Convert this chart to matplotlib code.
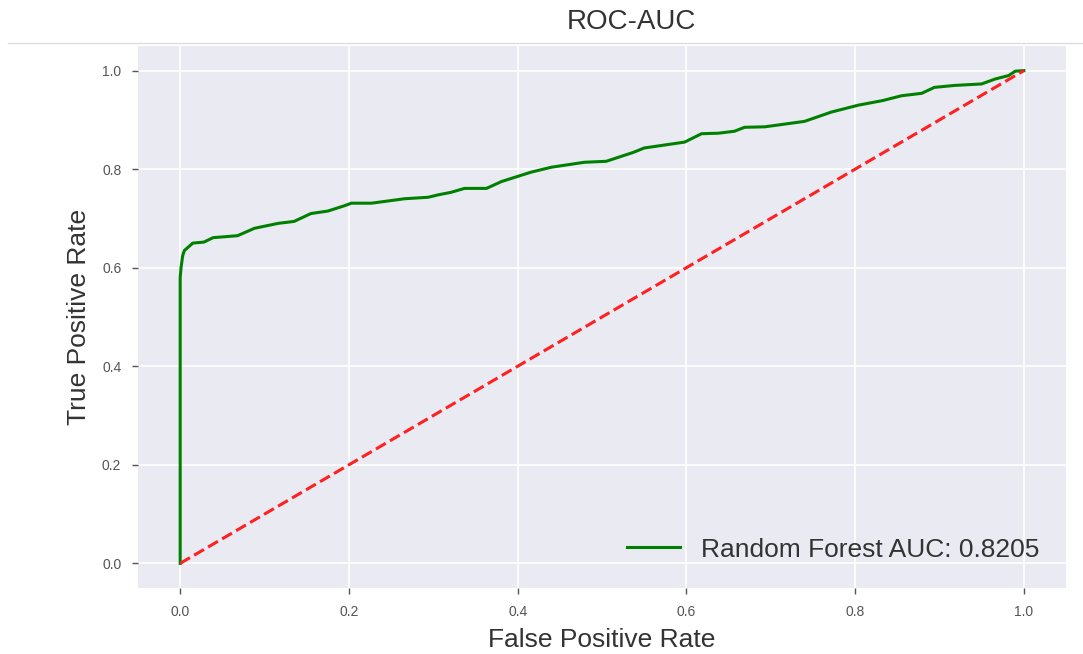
import matplotlib
matplotlib.use("Agg")
import matplotlib.pyplot as plt
from matplotlib.lines import Line2D

# ROC egrisi (resimden okunan noktalar)
fpr = [0, 0, 0.001, 0.003, 0.005, 0.015, 0.028, 0.039, 0.068, 0.088, 0.116, 0.135,
       0.155, 0.175, 0.195, 0.203, 0.227, 0.266, 0.294, 0.306, 0.321, 0.337, 0.363,
       0.381, 0.416, 0.44, 0.479, 0.505, 0.537, 0.55, 0.578, 0.598, 0.618, 0.638,
       0.657, 0.669, 0.693, 0.74, 0.772, 0.804, 0.832, 0.855, 0.879, 0.894, 0.918,
       0.95, 0.966, 0.982, 0.99, 1.0]
tpr = [0, 0.58, 0.6, 0.625, 0.635, 0.65, 0.652, 0.661, 0.665, 0.68, 0.69, 0.694,
       0.71, 0.715, 0.726, 0.731, 0.731, 0.74, 0.743, 0.748, 0.753, 0.761, 0.761,
       0.775, 0.794, 0.804, 0.814, 0.816, 0.834, 0.843, 0.85, 0.855, 0.872, 0.873,
       0.877, 0.885, 0.886, 0.897, 0.916, 0.93, 0.939, 0.949, 0.954, 0.966, 0.97,
       0.973, 0.983, 0.99, 0.999, 1.0]
diag = [0, 1]
auc = 0.8205
ticks = [0.0, 0.2, 0.4, 0.6, 0.8, 1.0]

plt.rcParams['font.family'] = ['Liberation Sans', 'DejaVu Sans']

fig = plt.figure(figsize=(10.83, 6.54), dpi=100)
ax = fig.add_axes([138 / 1083, 1 - 588 / 654, 928 / 1083, 542 / 654])
ax.set_facecolor("#EAEAF2")
for s in ax.spines.values():
    s.set_visible(False)
ax.grid(True, color="white", linewidth=1.2)
ax.set_axisbelow(True)

ax.plot(fpr, tpr, color="green", linewidth=2.2, label="Random Forest AUC: %.4f" % auc)
ax.plot(diag, diag, "--", linewidth=2.2, color="#ff2020")

ax.set_xlim(-0.05, 1.05)
ax.set_ylim(-0.05, 1.05)
ax.set_xticks(ticks)
ax.set_yticks(ticks)
ax.tick_params(axis="both", length=4, width=1, color="#555555", labelcolor="#555555",
               labelsize=10, pad=8)

ax.set_xlabel("False Positive Rate", fontsize=19, color="#333333", labelpad=7)
ax.set_ylabel("True Positive Rate", fontsize=19, color="#333333", labelpad=8)

leg = ax.legend(loc="lower right", fontsize=19, frameon=False, borderaxespad=0.6)
for t in leg.get_texts():
    t.set_color("#333333")

fig.text(631 / 1083, 1 - 22 / 654, "ROC-AUC", fontsize=20, color="#333333",
         ha="center", va="center")
fig.add_artist(Line2D([8 / 1083, 1.0], [1 - 43 / 654, 1 - 43 / 654],
                      color="#dddddd", linewidth=1, transform=fig.transFigure))

fig.savefig("out.png", dpi=100)
